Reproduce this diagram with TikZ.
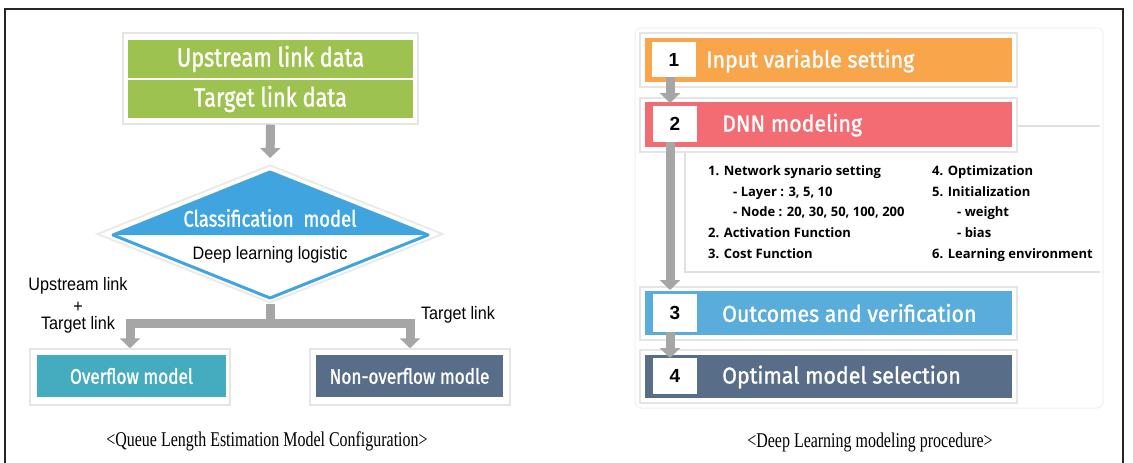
\documentclass[tikz,border=0pt]{standalone}
\usepackage{fontspec}
\usetikzlibrary{arrows.meta,shapes.geometric,calc}
\setmainfont{Liberation Sans}
\newfontfamily\headL[FakeStretch=0.82, FakeBold=1.2]{Fira Sans}
\newfontfamily\headR[FakeStretch=0.93, FakeBold=1.2]{Fira Sans}
\newfontfamily\capfont[FakeStretch=0.76]{Liberation Serif}
\newfontfamily\listfont{Open Sans}
\newfontfamily\plainfont[FakeStretch=0.9]{Liberation Sans}
\newfontfamily\numfont{Liberation Sans}
\definecolor{cgreen}{HTML}{9EC24F}
\definecolor{cdblue}{HTML}{40A4DE}
\definecolor{cteal}{HTML}{45ABBF}
\definecolor{cslate}{HTML}{576D88}
\definecolor{corange}{HTML}{F9A54C}
\definecolor{cred}{HTML}{F36B73}
\definecolor{cblue}{HTML}{5AADDB}
\definecolor{arrowgray}{HTML}{A6A6A6}
\tikzset{
  garrow/.style={draw=arrowgray, line width=9pt, -{Triangle[length=10pt,width=20pt]}},
  whiteframe/.style={fill=white, draw=black!10, line width=1.5pt, inner sep=0pt},
  band/.style={inner sep=0pt, text=white},
  numbox/.style={fill=white, inner sep=0pt, minimum width=44pt, font=\numfont\bfseries\fontsize{19}{19}\selectfont},
  hlsmall/.style={inner sep=0pt, text=white, font=\headL\fontsize{22.5}{22.5}\selectfont},
  hr/.style={inner sep=0pt, text=white, anchor=west, font=\headR\fontsize{23}{23}\selectfont},
  plain/.style={inner sep=0pt, font=\plainfont\fontsize{18}{18}\selectfont},
  capt/.style={inner sep=0pt, font=\capfont\fontsize{21}{21}\selectfont},
  li/.style={inner sep=0pt, anchor=west, text height=10pt, text depth=3pt, font=\listfont\bfseries\fontsize{13}{13}\selectfont},
}
\begin{document}
\begin{tikzpicture}[x=1pt,y=-1pt]
\useasboundingbox (0,0) rectangle (1133,463);
\fill[white] (0,0) rectangle (1133,463);
\draw[line width=1.2pt, black!85] (5,463) -- (5,9) -- (1123,9) -- (1123,463);

% ---------------- left: queue length model ----------------
\node[whiteframe, minimum width=295pt, minimum height=91pt] (gframe) at (270.5,78.5) {};
\node[band, fill=cgreen, minimum width=285pt, minimum height=38pt, font=\headL\fontsize{26.5}{26.5}\selectfont] (up) at (270.5,59) {Upstream link data};
\node[band, fill=cgreen, minimum width=285pt, minimum height=38pt, font=\headL\fontsize{26.5}{26.5}\selectfont] (tg) at (270.5,99) {Target link data};

\node[diamond, fill=white, draw=black!8, line width=2pt, minimum width=346pt, minimum height=138pt, inner sep=0pt] (dia) at (270,234) {};
\fill[cdblue] (113,235) -- (270,172) -- (428,235) -- cycle;
\draw[cdblue, line width=3pt, line join=round] (113,235) -- (270,172) -- (428,235) -- (270,298) -- cycle;
\node[hlsmall] (cls) at (270,218) {Classification\ \ model};
\node[plain] (dll) at (270,255) {Deep learning logistic};

\node[whiteframe, minimum width=200pt, minimum height=56pt] (ovf) at (130,377) {};
\node[band, fill=cteal, minimum width=189pt, minimum height=42pt, font=\headL\fontsize{21}{21}\selectfont] (ov) at (131.5,376) {Overflow model};
\node[whiteframe, minimum width=200pt, minimum height=56pt] (novf) at (410,377) {};
\node[band, fill=cslate, minimum width=187pt, minimum height=42pt, font=\headL\fontsize{21}{21}\selectfont] (nov) at (409.5,376) {Non-overflow modle};

\draw[garrow, shorten >=6pt] (gframe.south) -- (dia.north);
\coordinate (split) at (270,323);
\draw[garrow] (dia.south) -- (split) -| (ovf.north);
\draw[garrow] (dia.south) -- (split) -| (novf.north);

\node[plain] (lu1) at (78,286) {Upstream link};
\node[plain] (lu2) at (78,307) {+};
\node[plain] (lu3) at (78,325) {Target link};
\node[plain] (lt) at (458,315) {Target link};

\node[capt] (cap1) at (267,441) {<Queue Length Estimation Model Configuration>};

% ---------------- right: procedure ----------------
\draw[black!6, line width=1pt, rounded corners=6pt] (635,28) rectangle (1103,408);
\fill[white] (685,126) rectangle (1100,272);
\draw[black!12, line width=2.5pt] (1012,126) -- (1100,126);
\draw[black!12, line width=2.5pt] (685,147) -- (685,272) -- (1100,272);

\node[whiteframe, minimum width=377pt, minimum height=54pt] (f1) at (828.5,60) {};
\node[band, fill=corange, minimum width=367pt, minimum height=44pt] (b1) at (828.5,60) {};
\node[numbox, minimum height=35pt] (n1) at (674,59.5) {1};
\node[hr] (t1) at (706,61) {Input variable setting};

\node[whiteframe, minimum width=377pt, minimum height=54pt] (f2) at (828.5,125) {};
\node[band, fill=cred, minimum width=367pt, minimum height=45pt] (b2) at (828.5,124.5) {};
\node[numbox, minimum height=36pt] (n2) at (675,124) {2};
\node[hr] (t2) at (722,125) {DNN modeling};

\node[whiteframe, minimum width=377pt, minimum height=53pt] (f3) at (828.5,313.5) {};
\node[band, fill=cblue, minimum width=367pt, minimum height=44pt] (b3) at (828.5,313) {};
\node[numbox, minimum height=38pt] (n3) at (675,313) {3};
\node[hr] (t3) at (722,313) {Outcomes and verification};

\node[whiteframe, minimum width=377pt, minimum height=53pt] (f4) at (828.5,376.5) {};
\node[band, fill=cslate, minimum width=367pt, minimum height=43pt] (b4) at (828.5,376.5) {};
\node[numbox, minimum height=36pt] (n4) at (675,376) {4};
\node[hr] (t4) at (722,377) {Optimal model selection};

\draw[garrow] (n1.south -| 670,0) -- (670,103);
\draw[garrow] (n2.south -| 670,0) -- (670,290);
\draw[garrow] (n3.south -| 670,0) -- (670,358);

\node[li] (l1) at (708,172) {1. Network synario setting};
\node[li] (l2) at (733,193) {- Layer : 3, 5, 10};
\node[li] (l3) at (733,213) {- Node : 20, 30, 50, 100, 200};
\node[li] (l4) at (708,234) {2. Activation Function};
\node[li] (l5) at (708,255) {3. Cost Function};
\node[li] (r1) at (932,172) {4. Optimization};
\node[li] (r2) at (932,193) {5. Initialization};
\node[li] (r3) at (957,213) {- weight};
\node[li] (r4) at (957,234) {- bias};
\node[li] (r5) at (932,255) {6. Learning environment};

\node[capt] (cap2) at (870,442) {<Deep Learning modeling procedure>};
\end{tikzpicture}
\end{document}
